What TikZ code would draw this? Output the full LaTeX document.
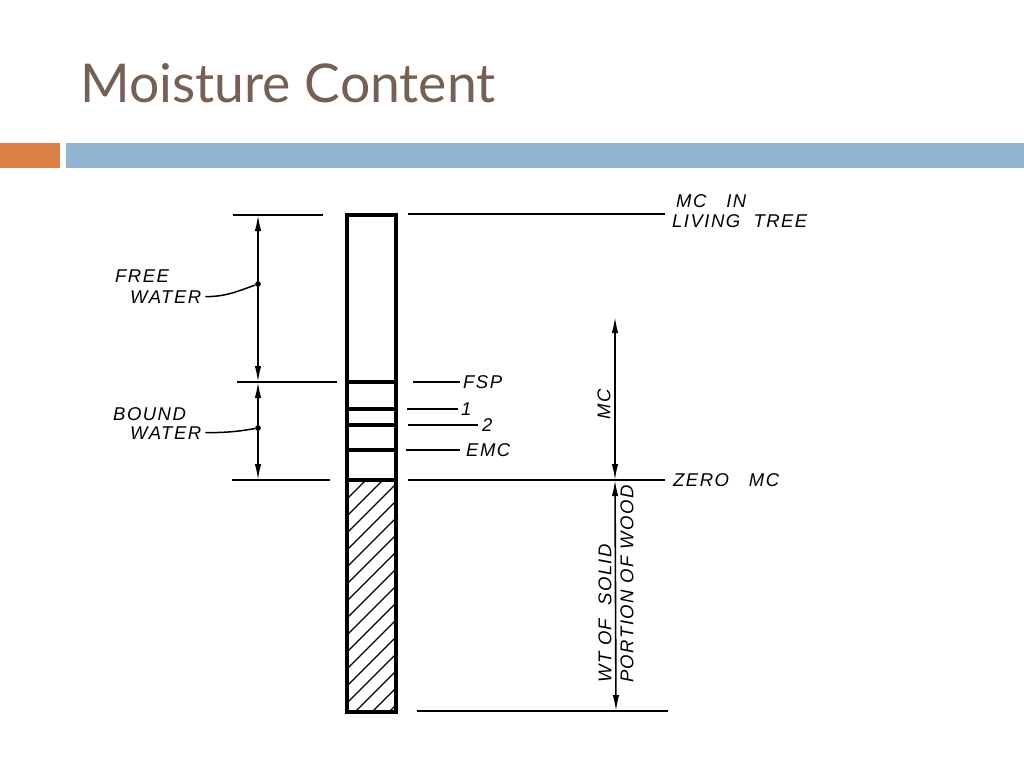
\documentclass[tikz,border=0pt]{standalone}
\usepackage{fontspec}
\setmainfont{Liberation Sans}
\newfontfamily\handfont[LetterSpace=8]{Liberation Sans}
\newfontfamily\titlefont{Lato}
\usetikzlibrary{arrows.meta,positioning}
\definecolor{titlebrown}{RGB}{118,96,84}
\definecolor{barorange}{RGB}{221,128,71}
\definecolor{barblue}{RGB}{147,181,210}
\tikzset{
  hand/.style={font=\handfont\itshape\fontsize{18.5}{20}\selectfont, inner sep=0pt},
  level/.style={line width=1.7pt},
  wall/.style={line width=3.2pt},
  dim/.style={line width=1.6pt, {Latex[length=16pt,width=6.5pt]}-{Latex[length=16pt,width=6.5pt]}},
}

\begin{document}
\begin{tikzpicture}[x=1pt,y=-1pt]
   \useasboundingbox (0,0) rectangle (1024,768);
   \fill[white] (0,0) rectangle (1024,768);
   % title and bars
   \node[anchor=base west, inner sep=0pt, text=titlebrown, font=\titlefont\fontsize{53.5}{58}\selectfont] (title) at (80,102) {Moisture Content};
   \fill[barorange] (0,143) rectangle (60,168);
   \fill[barblue] (66,143) rectangle (1024,168);
   % column levels
   \coordinate (top) at (347,215);
   \coordinate (bot) at (396,712);
   \coordinate (zeroL) at (347,480);
   \begin{scope}
      \clip (zeroL) rectangle (bot);
      \foreach \y in {482,499,...,780}
         \draw[line width=1.2pt] (347,\y) -- (396,\y-49);
   \end{scope}
   \foreach \y in {382,409,425,450,480}
      \draw[wall] (347,\y) -- (396,\y);
   \draw[wall] (top) rectangle (bot);
   % left side
   \coordinate (ltop) at (258,215);
   \coordinate (lfsp) at (258,382);
   \coordinate (lzero) at (258,480);
   \draw[level] (233,215) -- (323,215);
   \draw[level] (237,382) -- (337,382);
   \draw[level] (232,480) -- (330,480);
   \draw[dim] (ltop) -- (lfsp);
   \draw[dim] (lfsp) -- (lzero);
   \node[circle, fill, inner sep=2pt] (fwdot) at (258,284) {};
   \node[circle, fill, inner sep=2pt] (bwdot) at (258,428) {};
   \node[hand, anchor=base west] (fw1) at (115,282) {FREE};
   \node[hand, anchor=base west] (fw2) at (130,303) {WATER};
   \node[hand, anchor=base west] (bw1) at (113,420) {BOUND};
   \node[hand, anchor=base west] (bw2) at (130,439) {WATER};
   \draw[line width=1.5pt] ([xshift=4pt]fw2.east) to[out=0,in=200] (fwdot);
   \draw[line width=1.5pt] ([xshift=4pt]bw2.east) to[out=0,in=190] (bwdot);
   % right side
   \coordinate (treeR) at (665,214);
   \coordinate (fspR) at (460,382);
   \coordinate (oneR) at (458,409);
   \coordinate (twoR) at (478,425);
   \coordinate (emcR) at (460,450);
   \coordinate (zeroR) at (665,480);
   \coordinate (baseR) at (668,711);
   \draw[level] (408,214) -- (treeR);
   \draw[level] (413,382) -- (fspR);
   \draw[level] (407,409) -- (oneR);
   \draw[level] (408,425) -- (twoR);
   \draw[level] (406,450) -- (emcR);
   \draw[level] (408,480) -- (zeroR);
   \draw[level] (417,711) -- (baseR);
   \node[hand, right=7pt of treeR, yshift=-7pt] (tree) {LIVING\ \ TREE};
   \node[hand, anchor=south west] (mcin) at ([xshift=4pt,yshift=6pt]tree.north west) {MC\ \ \ IN};
   \node[hand, right=3pt of fspR] (fsp) {FSP};
   \node[hand, right=3pt of oneR] (one) {1};
   \node[hand, right=4pt of twoR] (two) {2};
   \node[hand, right=6pt of emcR] (emc) {EMC};
   \node[hand, right=8pt of zeroR] (zero) {ZERO\ \ \ MC};
   % MC and solid wood dimensions
   \coordinate (mctop) at (615,317);
   \coordinate (mcbot) at (615,480);
   \coordinate (wdbot) at (616,711);
   \draw[dim] (mctop) -- (mcbot);
   \draw[dim] (mcbot) -- (wdbot);
   \node[hand, rotate=90] (mc) at (604,404) {MC};
   \node[hand, rotate=90, anchor=west] (wt) at (605,683) {WT\ OF\ \ SOLID};
   \node[hand, rotate=90, anchor=west] (portion) at (627,683) {PORTION\ OF\ WOOD};
\end{tikzpicture}
\end{document}
